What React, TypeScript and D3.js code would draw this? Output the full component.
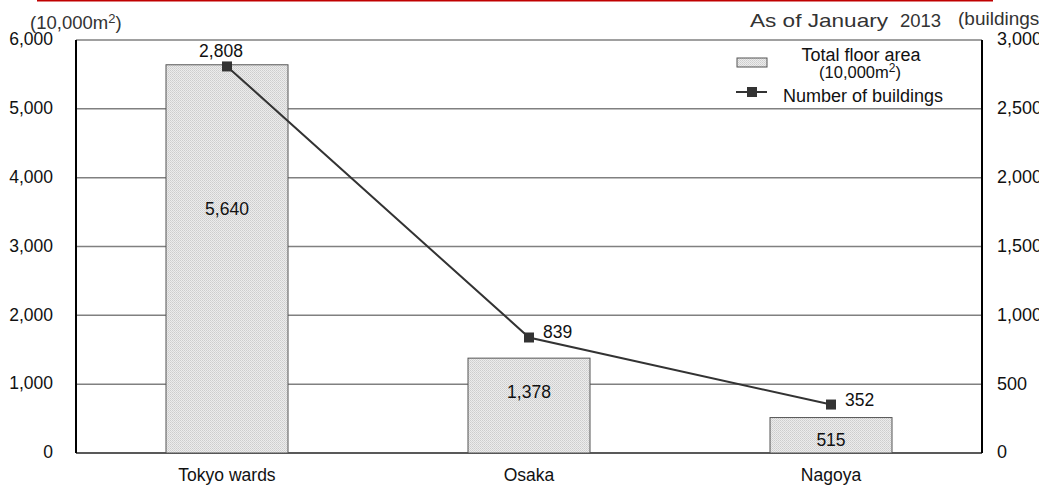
import React from "react";
import * as d3 from "d3";

const categories = ["Tokyo wards", "Osaka", "Nagoya"];
const floorArea = [5640, 1378, 515];
const buildings = [2808, 839, 352];
const floorLabels = ["5,640", "1,378", "515"];
const buildingLabels = ["2,808", "839", "352"];
const leftTicks = [0, 1000, 2000, 3000, 4000, 5000, 6000];
const rightTicks = [0, 500, 1000, 1500, 2000, 2500, 3000];
// baseline (in floor-area units) of each bar's value label
const barLabelAt = [3458, 799, 102];

const W = 1039;
const H = 485;
const M = { left: 76, right: 982, top: 40, bottom: 453 };
const FONT = "'Liberation Sans', Arial, sans-serif";
const FS = 17.5;

export default function App() {
  React.useEffect(() => {
    document.body.style.margin = "0";
  }, []);

  const x = d3
    .scalePoint<string>()
    .domain(categories)
    .range([M.left, M.right])
    .padding(0.5);
  const yL = d3.scaleLinear().domain([0, 6000]).range([M.bottom, M.top]);
  const yR = d3.scaleLinear().domain([0, 3000]).range([M.bottom, M.top]);
  const barW = 122;
  const fmt = d3.format(",");

  const linePath = d3
    .line<number>()
    .x((_, i) => x(categories[i])!)
    .y((d) => yR(d))(buildings);

  return (
    <svg width={W} height={H} style={{ display: "block", fontFamily: FONT }}>
      <defs>
        <pattern id="dots" width="2" height="2" patternUnits="userSpaceOnUse">
          <rect width="2" height="2" fill="#ececec" />
          <rect x="0" y="0" width="1" height="1" fill="#cdcdcd" />
          <rect x="1" y="1" width="1" height="1" fill="#d6d6d6" />
        </pattern>
      </defs>
      <rect width={W} height={H} fill="#fff" />
      {/* red top rule */}
      <line x1={37} x2={993} y1={0.5} y2={0.5} stroke="#c00000" strokeWidth={2} />

      {/* gridlines */}
      {leftTicks.map((t) => (
        <line
          key={t}
          x1={M.left}
          x2={M.right}
          y1={yL(t)}
          y2={yL(t)}
          stroke={t === 0 ? "#222" : "#808080"}
          strokeWidth={1.5}
        />
      ))}
      {/* axes */}
      <line x1={M.left} x2={M.left} y1={M.top} y2={M.bottom} stroke="#000" strokeWidth={2} />
      <line x1={M.right} x2={M.right} y1={M.top} y2={M.bottom} stroke="#000" strokeWidth={2} />

      {/* left tick labels */}
      {leftTicks.map((t) => (
        <text key={t} x={53} y={yL(t)} dy="0.3em" textAnchor="end" fontSize={FS} fill="#111">
          {fmt(t)}
        </text>
      ))}
      {/* right tick labels */}
      {rightTicks.map((t) => (
        <text key={t} x={997} y={yR(t)} dy="0.3em" textAnchor="start" fontSize={18} fill="#111">
          {fmt(t)}
        </text>
      ))}

      {/* bars */}
      {floorArea.map((v, i) => (
        <rect
          key={categories[i]}
          x={x(categories[i])! - barW / 2}
          y={yL(v)}
          width={barW}
          height={yL(0) - yL(v)}
          fill="url(#dots)"
          stroke="#555"
          strokeWidth={1}
        />
      ))}
      {floorLabels.map((l, i) => (
        <text
          key={l}
          x={x(categories[i])!}
          y={yL(barLabelAt[i])}
          textAnchor="middle"
          fontSize={FS}
          fill="#111"
        >
          {l}
        </text>
      ))}

      {/* line */}
      <path d={linePath!} fill="none" stroke="#333" strokeWidth={2} />
      {buildings.map((v, i) => (
        <rect
          key={categories[i]}
          x={x(categories[i])! - 5}
          y={yR(v) - 5}
          width={10}
          height={10}
          fill="#333"
        />
      ))}
      {buildingLabels.map((l, i) =>
        i === 0 ? (
          <text key={l} x={x(categories[i])! - 6} y={yR(buildings[i]) - 9} textAnchor="middle" fontSize={FS} fill="#111">
            {l}
          </text>
        ) : (
          <text key={l} x={x(categories[i])! + 14} y={yR(buildings[i]) + 1} textAnchor="start" fontSize={FS} fill="#111">
            {l}
          </text>
        )
      )}

      {/* category labels */}
      {categories.map((c) => (
        <text key={c} x={x(c)!} y={481} textAnchor="middle" fontSize={FS} fill="#111">
          {c}
        </text>
      ))}

      {/* unit labels */}
      <text x={30} y={29} fontSize={18.5} fill="#333">
        (10,000m<tspan dy="-6" fontSize={13}>2</tspan>
        <tspan dy="6">)</tspan>
      </text>
      <text x={750} y={27} fontSize={18.5} fill="#333" textLength={138} lengthAdjust="spacingAndGlyphs">
        As of January
      </text>
      <text x={900} y={27} fontSize={18.5} fill="#333">
        2013
      </text>
      <text x={958} y={25} fontSize={19} fill="#333">
        (buildings)
      </text>

      {/* legend */}
      <rect x={737} y={58} width={30} height={9} fill="url(#dots)" stroke="#555" strokeWidth={1} />
      <text x={861} y={61} textAnchor="middle" fontSize={18} fill="#111">
        Total floor area
      </text>
      <text x={860} y={78} textAnchor="middle" fontSize={16.5} fill="#111">
        (10,000m<tspan dy="-6" fontSize={12}>2</tspan>
        <tspan dy="6">)</tspan>
      </text>
      <line x1={736} x2={767} y1={92} y2={92} stroke="#333" strokeWidth={2} />
      <rect x={747} y={87} width={10} height={10} fill="#333" />
      <text x={783} y={102} textAnchor="start" fontSize={18} fill="#111">
        Number of buildings
      </text>
    </svg>
  );
}
